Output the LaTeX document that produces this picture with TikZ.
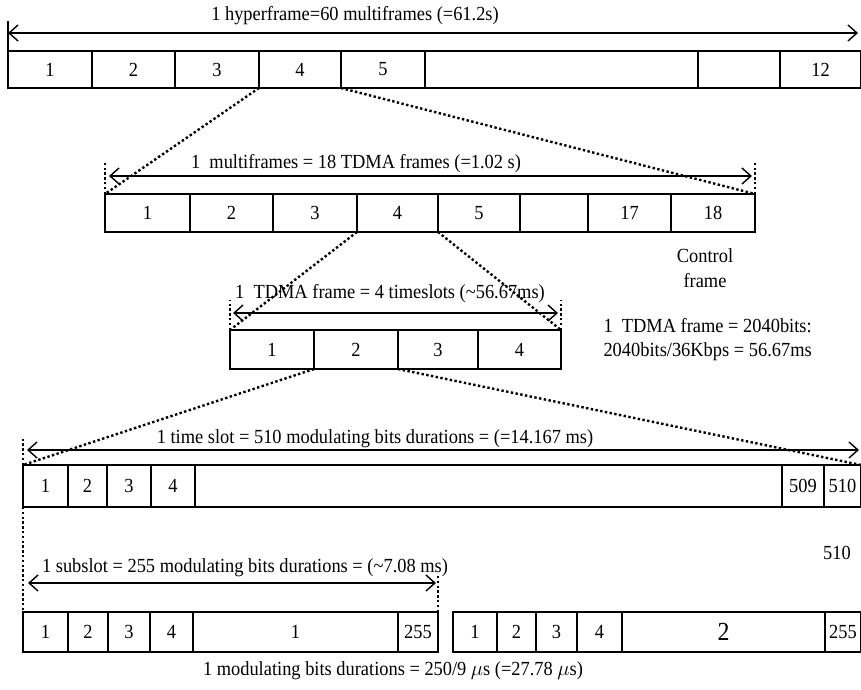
\documentclass[tikz,border=0pt]{standalone}
\usepackage{fontspec}
\setmainfont[FakeStretch=0.92]{Liberation Serif}
\usetikzlibrary{arrows.meta}

\begin{document}
\begin{tikzpicture}[x=1pt, y=-1pt,
  every node/.style={font=\fontsize{20}{24}\selectfont},
  box/.style={draw, line width=2.2pt, anchor=north west, inner sep=0pt, outer sep=0pt},
  dots/.style={line width=2.4pt, dash pattern=on 2.4pt off 2.4pt},
  span/.style={line width=1.4pt, {Straight Barb[length=9pt, width=16pt]}-{Straight Barb[length=9pt, width=16pt]}}]

  \useasboundingbox (0,0) rectangle (861,689);

  % hyperframe: 60 multiframes
  \foreach \a/\b/\t [count=\i] in {8/92/1, 92/175/2, 175/259/3, 259/341/4, 341/425/5,
                                   425/698/{}, 698/780/{}, 780/861/12}
    \node[box, minimum width=\b-\a, minimum height=37] (h\i) at (\a,51) {\t};
  \coordinate (hl) at (8,33);
  \coordinate (hr) at (858,33);
  \draw[line width=1.4pt] (h1.north west) -- ++(0,-30);
  \draw[span] (hl) -- (hr);
  \node[anchor=base] (hlab) at (355,20.5) {1 hyperframe=60 multiframes (=61.2s)};

  % multiframe: 18 TDMA frames
  \foreach \a/\b/\t [count=\i] in {105/190/1, 190/273/2, 273/357/3, 357/438/4, 438/520/5,
                                   520/588/{}, 588/671/17, 671/755/18}
    \node[box, minimum width=\b-\a, minimum height=38] (m\i) at (\a,194) {\t};
  \coordinate (ml) at (109,176);
  \coordinate (mr) at (752,176);
  \draw[dots] (m1.north west) -- ++(0,-32);
  \draw[dots] (m8.north east) -- ++(0,-32);
  \draw[span] (ml) -- (mr);
  \node[anchor=base] (mlab) at (356,168) {1\ \ multiframes = 18 TDMA frames (=1.02 s)};
  \node[anchor=base] (ctrl) at (705,262) {Control};
  \node[anchor=base] (ctrlb) at (705,287) {frame};

  % TDMA frame: 4 timeslots
  \foreach \a/\b/\t [count=\i] in {230/314/1, 314/398/2, 398/478/3, 478/561/4}
    \node[box, minimum width=\b-\a, minimum height=39] (t\i) at (\a,330) {\t};
  \coordinate (tl) at (233,313);
  \coordinate (tr) at (558,313);
  \draw[dots] (t1.north west) -- ++(0,-30);
  \draw[dots] (t4.north east) -- ++(0,-30);
  \draw[span] (tl) -- (tr);
  \node[anchor=base] (tlab) at (390,298) {1\ \ TDMA frame = 4 timeslots (\textasciitilde56.67ms)};
  \node[anchor=base west] (bits) at (600,332) {1\ \ TDMA frame = 2040bits:};
  \node[anchor=base west] (rate) at (600,356) {2040bits/36Kbps = 56.67ms};

  % time slot: 510 bits
  \foreach \a/\b/\t [count=\i] in {23/68/1, 68/107/2, 107/151/3, 151/195/4,
                                   195/782/{}, 782/824/509, 824/861/510}
    \node[box, minimum width=\b-\a, minimum height=42] (s\i) at (\a,465) {\t};
  \coordinate (sl) at (27,450);
  \coordinate (sr) at (859,450);
  \draw[dots] (s1.north west) -- ++(0,-28);
  \draw[span] (sl) -- (sr);
  \node[anchor=base] (slab) at (375,443) {1 time slot = 510 modulating bits durations = (=14.167 ms)};
  \node[anchor=base] (stray) at (837,559) {510};

  % two subslots of 255 bits
  \foreach \a/\b/\t [count=\i] in {23/68/1, 68/108/2, 108/150/3, 150/193/4, 193/398/1, 398/438/255}
    \node[box, minimum width=\b-\a, minimum height=40] (u\i) at (\a,612) {\t};
  \foreach \a/\b/\t [count=\i] in {453/497/1, 497/536/2, 536/577/3, 577/622/4,
                                   622/825/{\fontsize{26}{30}\selectfont 2}, 825/861/255}
    \node[box, minimum width=\b-\a, minimum height=40] (v\i) at (\a,612) {\t};
  \coordinate (ul) at (28,583);
  \coordinate (ur) at (436,583);
  \draw[dots] (u6.north east) -- ++(0,-36);
  \draw[span] (ul) -- (ur);
  \node[anchor=base] (ulab) at (245,572) {1 subslot = 255 modulating bits durations = (\textasciitilde7.08 ms)};
  \node[anchor=base] (blab) at (393,675) {1 modulating bits durations = 250/9 $\mu$s (=27.78 $\mu$s)};

  % zoom lines
  \draw[dots] (h4.south west) -- (m1.north west);
  \draw[dots] (h5.south west) -- (m8.north east);
  \draw[dots] (m4.south west) -- (t1.north west);
  \draw[dots] (m5.south west) -- (t4.north east);
  \draw[dots] (t2.south west) -- (s1.north west);
  \draw[dots] (t3.south west) -- (s7.north east);
  \draw[dots] (s1.south west) -- (u1.north west);
\end{tikzpicture}
\end{document}
